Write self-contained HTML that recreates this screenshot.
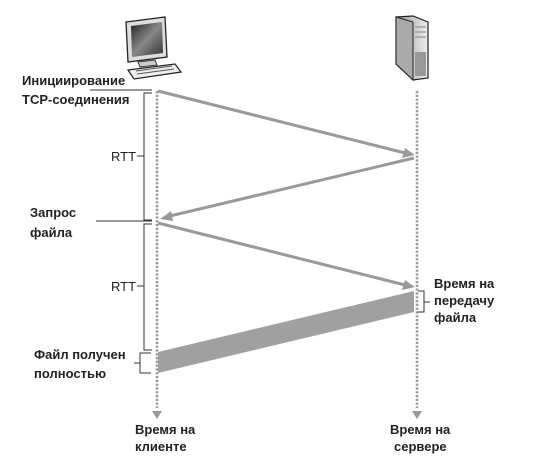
<!DOCTYPE html>
<html><head><meta charset="utf-8"><style>
body{margin:0;background:#fff}
svg text{font-family:"Liberation Sans",sans-serif;font-size:13px;fill:#222}
.b{font-weight:bold}
</style></head><body>
<svg width="536" height="458" viewBox="0 0 536 458" xmlns="http://www.w3.org/2000/svg">
<defs>
<linearGradient id="scr" x1="0" y1="0" x2="1" y2="1"><stop offset="0" stop-color="#222"/><stop offset="0.5" stop-color="#888"/><stop offset="1" stop-color="#333"/></linearGradient>
<linearGradient id="srv" x1="0" y1="0" x2="1" y2="0"><stop offset="0" stop-color="#999"/><stop offset="1" stop-color="#eee"/></linearGradient>
</defs>
<path d="M126 22 L165 17 L167 57 L128 62 Z" fill="#ddd" stroke="#222" stroke-width="1.3"/>
<path d="M131 26 L162 22 L163 53 L132 57 Z" fill="url(#scr)"/>
<path d="M138 62 L155 60 L157 65 L140 67 Z" fill="#ccc" stroke="#333"/>
<path d="M128 70 L175 64 L181 72 L134 79 Z" fill="#eee" stroke="#222" stroke-width="1.2"/>
<path d="M136 71 L172 66 M137 74 L174 69" stroke="#555"/>
<path d="M396 17 L413 16 L428 22 L428 78 L413 80 L396 64 Z" fill="url(#srv)" stroke="#222" stroke-width="1.2"/>
<path d="M396 17 L396 64 L413 80 L413 22 Z" fill="#aaa" stroke="#222"/>
<path d="M415 27h11M415 32h11M415 37h11" stroke="#888"/>
<rect x="415" y="52" width="11" height="24" fill="#999"/>
<line x1="157" y1="91" x2="157" y2="408" stroke="#999" stroke-width="2.6" stroke-dasharray="2.2 1.6"/>
<line x1="417" y1="91" x2="417" y2="408" stroke="#999" stroke-width="2.6" stroke-dasharray="2.2 1.6"/>
<path d="M152 411 L162 411 L157 419 Z" fill="#999"/>
<path d="M412 411 L422 411 L417 419 Z" fill="#999"/>
<g stroke="#999" stroke-width="3" fill="#999">
<line x1="158" y1="91" x2="405" y2="153"/>
<line x1="414" y1="158" x2="170" y2="216"/>
<line x1="158" y1="223" x2="405" y2="285"/>
</g>
<path d="M415 155 L402 158 L405 148 Z" fill="#999"/>
<path d="M160 219 L171 211 L173 221 Z" fill="#999"/>
<path d="M415 287 L402 290 L405 280 Z" fill="#999"/>
<path d="M158 352 L414 291 L414 312 L158 373 Z" fill="#a0a0a0"/>
<g stroke="#333" stroke-width="1" fill="none">
<path d="M90 90 H152 M152 93 H144 V220 H152 M137 156 H144"/>
<path d="M96 221 H152 M152 224 H144 V350 H152 M137 286 H144"/>
<path d="M151 353 H140 V373 H151 M134 363 H140"/>
<path d="M418 291 H424 V312 H418 M424 302 H430"/>
</g>
<text x="22" y="85" class="b">Инициирование</text>
<text x="22" y="104" class="b">TCP-соединения</text>
<text x="111" y="161">RTT</text>
<text x="111" y="291">RTT</text>
<text x="30" y="217" class="b">Запрос</text>
<text x="30" y="237" class="b">файла</text>
<text x="34" y="359" class="b">Файл получен</text>
<text x="34" y="378" class="b">полностью</text>
<text x="434" y="288" class="b">Время на</text>
<text x="434" y="305" class="b">передачу</text>
<text x="434" y="322" class="b">файла</text>
<text x="135" y="434" class="b">Время на</text>
<text x="135" y="451" class="b">клиенте</text>
<text x="390" y="434" class="b">Время на</text>
<text x="394" y="451" class="b">сервере</text>
</svg>
</body></html>
